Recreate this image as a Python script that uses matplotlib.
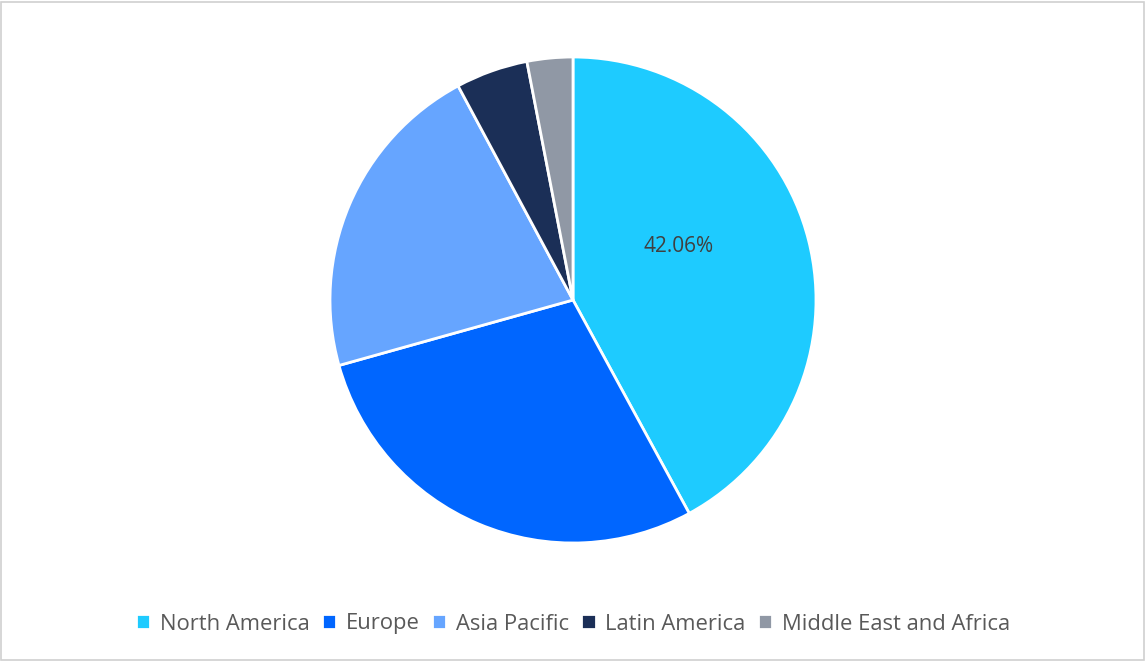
import matplotlib.pyplot as plt
from matplotlib.patches import Rectangle

labels = ["North America", "Europe", "Asia Pacific", "Latin America", "Middle East and Africa"]
values = [42.06, 28.6, 21.5, 4.8, 3.04]
colors = ["#1ECBFF", "#0066FF", "#66A5FF", "#1B2F57", "#9098A5"]

W, H = 1146, 661
fig = plt.figure(figsize=(W/100, H/100), dpi=100)
fig.patches.append(Rectangle((0.001, 0.002), 0.997, 0.995, transform=fig.transFigure,
                             fill=False, edgecolor="#D0D0D0", linewidth=1.2))
r = 243
ax = fig.add_axes([(573 - r)/W, (H - 300 - r)/H, 2*r/W, 2*r/H])
wedges, _ = ax.pie(values, colors=colors, startangle=90, counterclock=False, radius=1,
                   wedgeprops=dict(edgecolor="white", linewidth=2))
ax.set_xlim(-1, 1); ax.set_ylim(-1, 1)
ax.set_aspect("equal")
ax.text(0.435, 0.22, f"{values[0]:.2f}%", ha="center", va="center", fontsize=15,
        color="#404040", family="Open Sans")
fig.legend(wedges, labels, loc="center", bbox_to_anchor=(0.5, 1 - 624/H), ncol=5,
           frameon=False, handlelength=0.65, handleheight=0.65,
           handletextpad=0.45, columnspacing=0.55, prop={"family": "Open Sans", "size": 15.8},
           labelcolor="#595959")
fig.savefig("out.png", dpi=100)
